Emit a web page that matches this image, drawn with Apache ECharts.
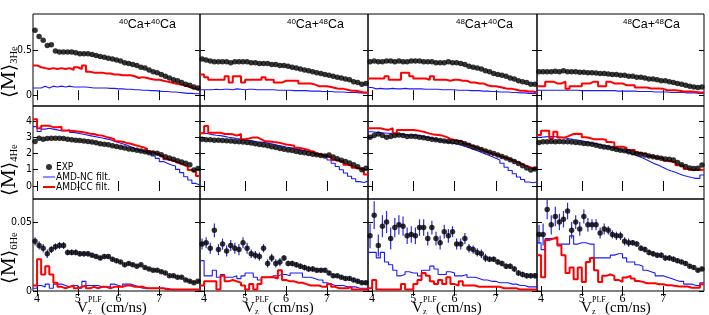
<!DOCTYPE html>
<html><head><meta charset="utf-8">
<script src="https://cdn.jsdelivr.net/npm/echarts@6/dist/echarts.min.js"></script>
<style>html,body{margin:0;padding:0;background:#fff}#c{width:709px;height:315px}</style>
</head><body><div id="c"></div>
<script>
// ---- bins (V_z^PLF, cm/ns) ----
const binCenters = [3.95,4.05,4.15,4.25,4.35,4.45,4.55,4.65,4.75,4.85,4.95,5.05,5.15,5.25,5.35,5.45,5.55,5.65,5.75,5.85,5.95,6.05,6.15,6.25,6.35,6.45,6.55,6.65,6.75,6.85,6.95,7.05,7.15,7.25,7.35,7.45,7.55,7.65,7.75,7.85,7.95];
const binWidth = 0.1;
const xTickLabels = [4,5,6,7];
const systems = [['40','40'],['40','48'],['48','40'],['48','48']];
const particles = ['3He','4He','6He'];
const yTickLabels3He = [0,0.5];
const yTickLabels4He = [0,1,2,3,4];
const yTickLabels6He = [0,0.05];

// ---- <M>3He ----
const exp3He_4040 = [0.72,0.65,0.61,0.55,0.56,0.49,0.48,0.48,0.48,0.48,0.47,0.46,0.46,0.46,0.45,0.44,0.43,0.42,0.41,0.40,0.39,0.38,0.36,0.35,0.34,0.33,0.31,0.30,0.28,0.26,0.25,0.23,0.21,0.19,0.17,0.16,0.14,0.12,0.11,0.09,0.08];
const nc3He_4040  = [0.08,0.08,0.10,0.08,0.10,0.09,0.10,0.09,0.10,0.09,0.09,0.09,0.09,0.085,0.08,0.08,0.08,0.08,0.075,0.075,0.07,0.07,0.065,0.065,0.06,0.06,0.055,0.055,0.05,0.05,0.045,0.04,0.04,0.035,0.035,0.03,0.025,0.02,0.02,0.015,0.015];
const cc3He_4040  = [0.33,0.31,0.30,0.29,0.30,0.29,0.30,0.29,0.30,0.28,0.31,0.29,0.33,0.26,0.25,0.25,0.25,0.24,0.24,0.23,0.23,0.22,0.22,0.22,0.21,0.19,0.20,0.19,0.18,0.17,0.17,0.16,0.15,0.14,0.13,0.12,0.11,0.10,0.08,0.07,0.06];
const exp3He_4048 = [0.40,0.39,0.38,0.37,0.37,0.37,0.37,0.36,0.37,0.37,0.37,0.37,0.36,0.36,0.35,0.35,0.35,0.34,0.34,0.33,0.33,0.32,0.31,0.30,0.29,0.28,0.27,0.26,0.25,0.24,0.23,0.22,0.21,0.20,0.19,0.18,0.17,0.15,0.14,0.12,0.13];
const nc3He_4048  = [0.06,0.06,0.06,0.065,0.06,0.065,0.065,0.06,0.07,0.065,0.06,0.065,0.065,0.06,0.06,0.06,0.06,0.06,0.055,0.055,0.055,0.055,0.05,0.05,0.05,0.05,0.045,0.045,0.045,0.04,0.04,0.04,0.035,0.035,0.035,0.03,0.03,0.03,0.025,0.025,0.025];
const cc3He_4048  = [0.23,0.20,0.17,0.17,0.17,0.17,0.21,0.14,0.21,0.21,0.14,0.17,0.17,0.17,0.17,0.20,0.17,0.17,0.14,0.14,0.16,0.16,0.16,0.16,0.13,0.13,0.13,0.12,0.10,0.10,0.10,0.09,0.08,0.07,0.07,0.06,0.05,0.05,0.04,0.03,0.03];
const exp3He_4840 = [0.37,0.38,0.37,0.37,0.38,0.38,0.37,0.38,0.37,0.37,0.38,0.38,0.38,0.37,0.37,0.37,0.36,0.36,0.36,0.37,0.36,0.36,0.35,0.34,0.32,0.31,0.30,0.29,0.27,0.26,0.24,0.23,0.22,0.21,0.19,0.18,0.16,0.15,0.14,0.12,0.12];
const nc3He_4840  = [0.085,0.07,0.075,0.07,0.07,0.075,0.07,0.07,0.075,0.07,0.07,0.07,0.07,0.065,0.065,0.065,0.065,0.06,0.06,0.06,0.06,0.055,0.055,0.055,0.05,0.05,0.05,0.045,0.045,0.04,0.04,0.035,0.035,0.035,0.03,0.03,0.025,0.025,0.02,0.02,0.02];
const cc3He_4840  = [0.185,0.185,0.185,0.185,0.21,0.17,0.17,0.17,0.25,0.25,0.21,0.185,0.185,0.185,0.17,0.21,0.17,0.17,0.17,0.16,0.17,0.17,0.16,0.16,0.14,0.14,0.13,0.13,0.11,0.10,0.10,0.09,0.08,0.07,0.07,0.06,0.05,0.05,0.04,0.04,0.03];
const exp3He_4848 = [0.26,0.26,0.26,0.26,0.265,0.26,0.27,0.26,0.26,0.26,0.255,0.255,0.25,0.25,0.245,0.24,0.24,0.235,0.23,0.23,0.22,0.22,0.21,0.21,0.20,0.20,0.19,0.18,0.18,0.17,0.16,0.16,0.15,0.14,0.13,0.12,0.11,0.10,0.09,0.085,0.09];
const nc3He_4848  = [0.055,0.055,0.055,0.055,0.055,0.055,0.055,0.055,0.055,0.055,0.05,0.05,0.05,0.05,0.05,0.05,0.05,0.05,0.05,0.045,0.045,0.045,0.045,0.045,0.04,0.04,0.04,0.04,0.035,0.035,0.035,0.035,0.03,0.03,0.03,0.03,0.025,0.025,0.025,0.02,0.02];
const cc3He_4848  = [0.10,0.10,0.15,0.15,0.13,0.13,0.15,0.07,0.10,0.10,0.10,0.13,0.13,0.15,0.15,0.10,0.10,0.15,0.13,0.13,0.13,0.11,0.11,0.11,0.085,0.085,0.085,0.075,0.075,0.075,0.07,0.055,0.055,0.055,0.05,0.04,0.04,0.04,0.035,0.03,0.03];

// ---- <M>4He ----
const exp4He_4040 = [2.73,2.93,2.88,2.92,2.94,2.94,2.93,2.92,2.88,2.85,2.82,2.80,2.77,2.74,2.70,2.66,2.60,2.57,2.53,2.48,2.43,2.39,2.33,2.28,2.24,2.20,2.15,2.10,2.05,2.03,2.02,1.92,1.80,1.72,1.64,1.55,1.48,1.40,1.30,0.98,1.08];
const nc4He_4040  = [3.65,3.35,3.50,3.55,3.50,3.45,3.40,3.40,3.45,3.30,3.25,3.20,3.15,3.10,3.05,3.00,2.95,2.90,2.85,2.75,2.68,2.60,2.52,2.42,2.30,2.22,2.15,2.08,2.00,1.85,1.70,1.50,1.40,1.29,1.23,1.02,0.82,0.57,0.37,0.16,0.06];
const cc4He_4040  = [4.10,3.55,3.70,3.70,3.62,3.62,3.65,3.42,3.40,3.38,3.35,3.32,3.28,3.22,3.20,3.12,3.10,3.02,2.95,2.88,2.75,2.72,2.65,2.60,2.52,2.45,2.38,2.30,2.12,2.02,1.92,1.80,1.64,1.58,1.50,1.40,1.30,1.19,0.98,0.88,0.62];
const exp4He_4048 = [2.87,2.85,2.85,2.82,2.82,2.80,2.78,2.76,2.74,2.72,2.70,2.68,2.65,2.60,2.55,2.52,2.48,2.42,2.36,2.30,2.26,2.22,2.18,2.12,2.08,2.05,2.00,1.96,1.92,1.88,1.85,1.90,1.78,1.68,1.58,1.50,1.42,1.30,1.18,1.00,1.09];
const nc4He_4048  = [3.24,3.22,3.16,3.12,3.10,3.05,3.00,2.96,2.92,2.88,2.84,2.80,2.76,2.72,2.70,2.67,2.62,2.56,2.50,2.45,2.40,2.36,2.30,2.25,2.20,2.15,2.10,2.02,1.95,1.85,1.75,1.60,1.40,1.20,1.00,0.80,0.60,0.45,0.27,0.22,0.30];
const cc4He_4048  = [3.24,3.69,3.28,3.28,3.28,3.20,3.20,3.18,3.10,3.20,2.87,2.92,2.99,2.99,2.87,2.75,2.73,2.70,2.68,2.62,2.55,2.52,2.48,2.35,2.30,2.25,2.15,2.10,1.95,1.90,1.85,1.75,1.60,1.55,1.48,1.30,1.25,1.12,1.08,1.05,0.70];
const exp4He_4840 = [3.00,3.10,3.20,3.10,3.00,3.05,3.10,3.14,3.10,3.05,3.06,3.04,3.00,2.96,2.92,2.88,2.85,2.80,2.76,2.73,2.72,2.70,2.67,2.60,2.50,2.40,2.33,2.25,2.15,2.08,2.00,1.90,1.82,1.72,1.62,1.50,1.38,1.25,1.10,0.98,1.05];
const nc4He_4840  = [3.34,3.30,3.28,3.26,3.24,3.22,3.20,3.18,3.16,3.14,3.14,3.12,3.08,3.02,2.96,2.90,2.85,2.80,2.74,2.68,2.62,2.55,2.48,2.40,2.30,2.22,2.12,2.02,1.92,1.82,1.70,1.60,1.40,1.15,0.95,0.75,0.55,0.40,0.25,0.20,0.25];
const cc4He_4840  = [3.55,3.55,3.55,3.49,3.45,3.55,3.24,3.45,3.45,3.45,3.45,3.42,3.36,3.30,3.22,3.16,3.14,3.10,3.02,2.90,2.83,2.78,2.73,2.60,2.50,2.42,2.30,2.20,2.10,2.00,1.95,1.85,1.76,1.70,1.60,1.50,1.40,1.28,1.19,1.09,1.09];
const exp4He_4848 = [2.67,2.72,2.72,2.74,2.72,2.74,2.72,2.72,2.70,2.68,2.66,2.62,2.60,2.56,2.50,2.45,2.40,2.36,2.30,2.25,2.20,2.16,2.10,2.05,2.00,1.95,1.90,1.85,1.80,1.75,1.70,1.66,1.64,1.60,1.45,1.30,1.20,1.10,1.08,1.09,1.29];
const nc4He_4848  = [3.00,3.02,3.04,3.04,3.02,3.00,2.95,2.90,2.86,2.83,2.78,2.72,2.66,2.62,2.58,2.52,2.46,2.40,2.34,2.26,2.18,2.10,2.02,1.92,1.82,1.72,1.60,1.48,1.36,1.26,1.14,1.02,0.92,0.84,0.74,0.65,0.58,0.52,0.47,0.47,0.68];
const cc4He_4848  = [3.14,3.40,3.40,2.94,3.34,2.99,2.99,3.10,3.20,3.22,3.20,3.00,2.95,2.87,2.87,2.87,2.85,2.70,2.67,2.42,2.42,2.35,2.21,2.21,2.05,2.00,1.98,1.85,1.76,1.72,1.70,1.55,1.50,1.45,1.28,1.23,1.05,0.98,0.98,0.98,1.00];

// ---- <M>6He ----
const exp6He_4040 = [0.036,0.033,0.031,0.027,0.030,0.032,0.033,0.033,0.028,0.028,0.028,0.027,0.027,0.027,0.026,0.025,0.024,0.025,0.025,0.023,0.022,0.021,0.019,0.020,0.019,0.018,0.019,0.017,0.016,0.015,0.015,0.014,0.013,0.011,0.011,0.010,0.010,0.008,0.007,0.006,0.007];
const err6He_4040 = [0.003,0.003,0.003,0.003,0.0025,0.0025,0.0025,0.0025,0.002,0.002,0.002,0.002,0.002,0.002,0.0015,0.0015,0.0015,0.0015,0.0015,0.0015,0.0015,0.0012,0.0012,0.0012,0.0012,0.0012,0.001,0.001,0.001,0.001,0.001,0.001,0.001,0.001,0.001,0.001,0.001,0.001,0.001,0.001,0.001];
const nc6He_4040  = [0.002,0.004,0.003,0.005,0.002,0.005,0.005,0.004,0.003,0.004,0.004,0.002,0.007,0.004,0.004,0.004,0.003,0.003,0.003,0.005,0.004,0.003,0.005,0.005,0.004,0.003,0.002,0.002,0.002,0.002,0.002,0.002,0.002,0.001,0.001,0.001,0.001,0.001,0.001,0.001,0.001];
const cc6He_4040  = [0.004,0.023,0.012,0.018,0.012,0.006,0.003,0.002,0.003,0.004,0.002,0.003,0.004,0.002,0.003,0.002,0.003,0.003,0.002,0.003,0.003,0.003,0.004,0.004,0.003,0.003,0.003,0.002,0.002,0.002,0.002,0.002,0.001,0.001,0.001,0.001,0.001,0.001,0.001,0.001,0.001];
const exp6He_4048 = [0.034,0.035,0.031,0.044,0.030,0.034,0.029,0.033,0.031,0.030,0.035,0.031,0.027,0.026,0.025,0.031,0.020,0.024,0.020,0.021,0.024,0.020,0.020,0.019,0.018,0.017,0.016,0.016,0.015,0.015,0.015,0.013,0.011,0.011,0.010,0.009,0.009,0.008,0.007,0.006,0.006];
const err6He_4048 = [0.004,0.004,0.004,0.005,0.004,0.004,0.004,0.004,0.004,0.004,0.004,0.004,0.003,0.003,0.003,0.003,0.003,0.003,0.003,0.003,0.002,0.002,0.002,0.002,0.002,0.002,0.002,0.002,0.0015,0.0015,0.0015,0.0015,0.0015,0.0015,0.0015,0.0015,0.0015,0.0015,0.0015,0.0015,0.0015];
const nc6He_4048  = [0.022,0.011,0.011,0.015,0.010,0.012,0.010,0.010,0.011,0.009,0.011,0.013,0.013,0.010,0.008,0.010,0.010,0.011,0.011,0.012,0.012,0.011,0.013,0.013,0.013,0.010,0.010,0.009,0.008,0.008,0.006,0.005,0.004,0.004,0.004,0.003,0.003,0.003,0.002,0.002,0.002];
const cc6He_4048  = [0.004,0.007,0.007,0.007,0.001,0.011,0.007,0.008,0.007,0.006,0.004,0.001,0.005,0.001,0.005,0.010,0.010,0.010,0.009,0.015,0.008,0.007,0.007,0.006,0.006,0.005,0.004,0.004,0.004,0.003,0.003,0.005,0.003,0.002,0.002,0.002,0.003,0.001,0.001,0.001,0.001];
const exp6He_4840 = [0.040,0.055,0.033,0.047,0.050,0.038,0.046,0.048,0.047,0.040,0.041,0.040,0.046,0.046,0.038,0.046,0.038,0.035,0.043,0.040,0.043,0.034,0.034,0.038,0.031,0.030,0.028,0.027,0.024,0.023,0.023,0.021,0.020,0.018,0.018,0.016,0.013,0.012,0.011,0.011,0.011];
const err6He_4840 = [0.009,0.010,0.008,0.008,0.008,0.008,0.007,0.007,0.007,0.006,0.006,0.006,0.006,0.006,0.005,0.005,0.005,0.005,0.005,0.005,0.004,0.004,0.004,0.004,0.003,0.003,0.003,0.003,0.003,0.002,0.002,0.002,0.002,0.002,0.002,0.002,0.002,0.002,0.002,0.002,0.002];
const nc6He_4840  = [0.028,0.028,0.024,0.028,0.021,0.019,0.015,0.011,0.012,0.014,0.013,0.013,0.011,0.015,0.015,0.018,0.016,0.012,0.012,0.014,0.013,0.011,0.011,0.012,0.010,0.010,0.009,0.008,0.008,0.007,0.007,0.006,0.006,0.006,0.005,0.005,0.004,0.004,0.003,0.003,0.003];
const cc6He_4840  = [0.002,0.008,0.001,0.001,0.001,0.001,0.001,0.001,0.005,0.001,0.001,0.005,0.008,0.013,0.011,0.007,0.005,0.008,0.005,0.010,0.005,0.004,0.007,0.004,0.004,0.004,0.003,0.003,0.003,0.003,0.003,0.003,0.002,0.002,0.002,0.002,0.001,0.001,0.001,0.001,0.001];
const exp6He_4848 = [0.041,0.041,0.059,0.048,0.054,0.050,0.052,0.058,0.044,0.050,0.045,0.054,0.048,0.048,0.048,0.042,0.045,0.044,0.041,0.040,0.040,0.036,0.035,0.035,0.034,0.031,0.030,0.028,0.027,0.026,0.026,0.024,0.024,0.023,0.022,0.021,0.020,0.018,0.017,0.015,0.016];
const err6He_4848 = [0.007,0.008,0.007,0.007,0.007,0.006,0.006,0.006,0.006,0.005,0.005,0.005,0.005,0.004,0.004,0.004,0.004,0.003,0.003,0.003,0.003,0.003,0.003,0.002,0.002,0.002,0.002,0.002,0.002,0.002,0.002,0.002,0.002,0.002,0.0015,0.0015,0.0015,0.0015,0.0015,0.0015,0.0015];
const nc6He_4848  = [0.035,0.030,0.038,0.038,0.038,0.034,0.034,0.034,0.040,0.034,0.035,0.035,0.034,0.034,0.024,0.024,0.024,0.024,0.026,0.027,0.027,0.024,0.021,0.021,0.019,0.018,0.015,0.014,0.013,0.011,0.011,0.010,0.009,0.008,0.007,0.007,0.005,0.005,0.004,0.004,0.006];
const cc6He_4848  = [0.026,0.010,0.037,0.038,0.039,0.033,0.026,0.013,0.017,0.0085,0.017,0.0066,0.021,0.024,0.015,0.0066,0.011,0.012,0.011,0.008,0.0066,0.0098,0.011,0.009,0.0073,0.0066,0.0056,0.0056,0.0056,0.0049,0.0049,0.0042,0.0042,0.0037,0.0032,0.0032,0.0032,0.0024,0.0024,0.0024,0.0049];

// ---- layout ----
const colLeft = [33,200,368,537], colWidth = [167,168,169,167];
const rowTop = [14,106,199], rowHeight = [92,93,92];
const yMin = [-0.12,-0.8,0], yMax = [0.9,4.92,0.0667];
const yTicks = [yTickLabels3He, yTickLabels4He, yTickLabels6He];
const keys = ['4040','4048','4840','4848'];
const tables = {
  exp:[{'4040':exp3He_4040,'4048':exp3He_4048,'4840':exp3He_4840,'4848':exp3He_4848},
       {'4040':exp4He_4040,'4048':exp4He_4048,'4840':exp4He_4840,'4848':exp4He_4848},
       {'4040':exp6He_4040,'4048':exp6He_4048,'4840':exp6He_4840,'4848':exp6He_4848}],
  nc:[{'4040':nc3He_4040,'4048':nc3He_4048,'4840':nc3He_4840,'4848':nc3He_4848},
      {'4040':nc4He_4040,'4048':nc4He_4048,'4840':nc4He_4840,'4848':nc4He_4848},
      {'4040':nc6He_4040,'4048':nc6He_4048,'4840':nc6He_4840,'4848':nc6He_4848}],
  cc:[{'4040':cc3He_4040,'4048':cc3He_4048,'4840':cc3He_4840,'4848':cc3He_4848},
      {'4040':cc4He_4040,'4048':cc4He_4048,'4840':cc4He_4840,'4848':cc4He_4848},
      {'4040':cc6He_4040,'4048':cc6He_4048,'4840':cc6He_4840,'4848':cc6He_4848}],
  err:{'4040':err6He_4040,'4048':err6He_4048,'4840':err6He_4840,'4848':err6He_4848}
};

function histData(vals){
  const d = binCenters.map((x,i)=>[x-binWidth/2, vals[i]]);
  d.push([binCenters[binCenters.length-1]+binWidth/2, vals[vals.length-1]]);
  return d;
}

const NARROW = '"Liberation Sans Narrow","DejaVu Sans Condensed","Liberation Sans",sans-serif';
const grids=[], xAxes=[], yAxes=[], series=[], graphics=[];
const BLUE='#1a1aff', RED='#ff0000';
for(let r=0;r<3;r++){
  for(let c=0;c<4;c++){
    const g=r*4+c;
    grids.push({left:colLeft[c],top:rowTop[r],width:colWidth[c],height:rowHeight[r],show:true,borderColor:'#000',borderWidth:1,backgroundColor:'rgba(0,0,0,0)'});
    const xBase={gridIndex:g,type:'value',min:3.9,max:8.0,splitLine:{show:false},axisLine:{show:false},
      axisTick:{show:true,inside:true,length:5,customValues:xTickLabels,lineStyle:{color:'#000'}}};
    xAxes.push(Object.assign({},xBase,{position:'bottom',axisLabel:{show:r===2,customValues:xTickLabels,color:'#000',fontFamily:'Liberation Serif',fontSize:12,margin:2}}));
    xAxes.push(Object.assign({},xBase,{position:'top',axisLabel:{show:false}}));
    const yBase={gridIndex:g,type:'value',min:yMin[r],max:yMax[r],splitLine:{show:false},axisLine:{show:false},
      axisTick:{show:true,inside:true,length:5,customValues:yTicks[r],lineStyle:{color:'#000'}}};
    yAxes.push(Object.assign({},yBase,{position:'left',axisLabel:{show:c===0,customValues:yTicks[r],color:'#000',fontFamily:NARROW,fontSize:10.5,margin:1}}));
    yAxes.push(Object.assign({},yBase,{position:'right',axisLabel:{show:false}}));
    const k=keys[c];
    series.push({name:'AMD-NC filt.',type:'line',step:'end',xAxisIndex:2*g,yAxisIndex:2*g,data:histData(tables.nc[r][k]),
      showSymbol:false,symbol:'none',lineStyle:{color:BLUE,width:1.1},itemStyle:{color:BLUE},z:2,animation:false,clip:true});
    series.push({name:'AMD-CC filt.',type:'line',step:'end',xAxisIndex:2*g,yAxisIndex:2*g,data:histData(tables.cc[r][k]),
      showSymbol:false,symbol:'none',lineStyle:{color:RED,width:2},itemStyle:{color:RED},z:3,animation:false,clip:true});
    if(r===2){
      const ev=tables.exp[r][k], er=tables.err[k];
      series.push({type:'custom',xAxisIndex:2*g,yAxisIndex:2*g,z:4,animation:false,
        data:binCenters.map((x,i)=>[x,ev[i],er[i]]),encode:{x:0,y:1},
        renderItem:function(params,api){
          const x=api.value(0),y=api.value(1),e=api.value(2);
          const p1=api.coord([x,y-e]),p2=api.coord([x,y+e]);
          return {type:'line',shape:{x1:p1[0],y1:p1[1],x2:p2[0],y2:p2[1]},style:{stroke:'#2b2bd6',lineWidth:1.2}};
        }});
    }
    series.push({name:'EXP',type:'scatter',xAxisIndex:2*g,yAxisIndex:2*g,data:binCenters.map((x,i)=>[x,tables.exp[r][k][i]]),
      symbol:'circle',symbolSize:5.5,itemStyle:{color:'#000'},z:5,animation:false});
  }
}

// titles
for(let c=0;c<4;c++){
  const s=systems[c];
  graphics.push({type:'text',right:709-(colLeft[c]+colWidth[c]-24),top:18,
    style:{text:'{s|'+s[0]+'}{b|Ca+}{s|'+s[1]+'}{b|Ca}',fill:'#000',
      rich:{s:{fontSize:8,fontFamily:'Liberation Sans',verticalAlign:'top',lineHeight:13},b:{fontSize:12.5,fontFamily:'Liberation Sans',lineHeight:13}}}});
  // x axis title
  const x0=colLeft[c]+44;
  graphics.push({type:'text',x:x0,y:301,style:{text:'V',font:'15px "Liberation Serif"',fill:'#000'}});
  graphics.push({type:'text',x:x0+11,y:296,style:{text:'PLF',font:'8px "Liberation Serif"',fill:'#000'}});
  graphics.push({type:'text',x:x0+11,y:308,style:{text:'z',font:'8px "Liberation Serif"',fill:'#000'}});
  graphics.push({type:'text',x:x0+24,y:301,style:{text:'(cm/ns)',font:'15px "Liberation Serif"',fill:'#000'}});
}
// y axis titles
const yTitleBottom=[98,196,284];
for(let r=0;r<3;r++){
  graphics.push({type:'text',x:0,y:yTitleBottom[r],rotation:Math.PI/2,
    style:{text:'{m|\u27E8M\u27E9}{s|'+particles[r]+'}',fill:'#000',
      rich:{m:{fontSize:19,fontFamily:'DejaVu Serif',lineHeight:20},s:{fontSize:10.5,fontFamily:'Liberation Serif',verticalAlign:'bottom',lineHeight:20}}}});
}

const chart=echarts.init(document.getElementById('c'),null,{renderer:'canvas'});
chart.setOption({
  animation:false,
  backgroundColor:'#fff',
  grid:grids,xAxis:xAxes,yAxis:yAxes,series:series,
  legend:{orient:'vertical',left:43,top:162,itemWidth:12,itemHeight:6,itemGap:0,selectedMode:false,padding:0,
    data:[{name:'EXP',icon:'circle'},
          {name:'AMD-NC filt.',icon:'path://M0,0H24V2H0Z'},
          {name:'AMD-CC filt.',icon:'path://M0,0H12V2H0Z'}],
    textStyle:{fontSize:10,lineHeight:10,fontFamily:NARROW,color:'#000',padding:[0,0,0,-4]}},
  graphic:graphics
});
</script></body></html>
